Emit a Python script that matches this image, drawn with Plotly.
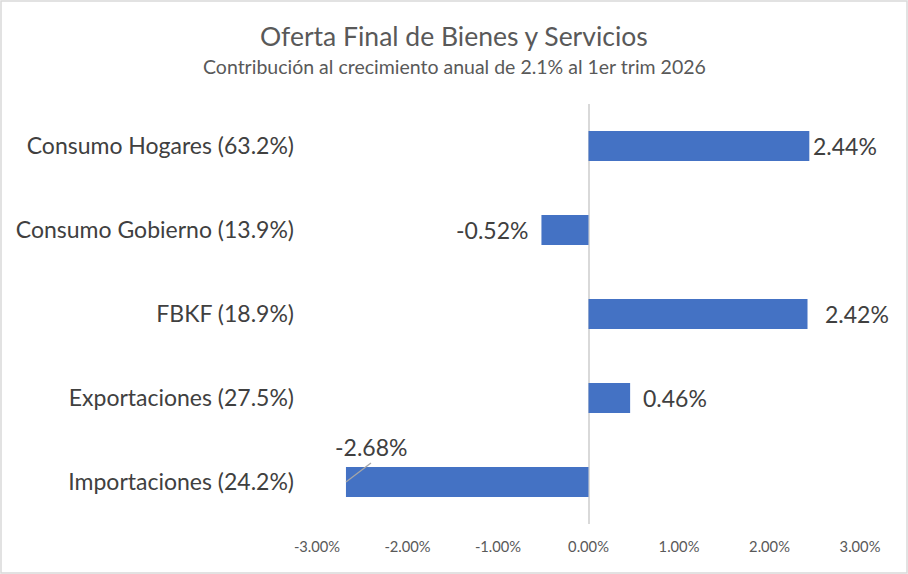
import plotly.graph_objects as go

categories = ["Consumo Hogares (63.2%)", "Consumo Gobierno (13.9%)", "FBKF (18.9%)",
              "Exportaciones (27.5%)", "Importaciones (24.2%)"]
values = [2.44, -0.52, 2.42, 0.46, -2.68]
labels = ["2.44%", "-0.52%", "2.42%", "0.46%", "-2.68%"]
tick_vals = [-3, -2, -1, 0, 1, 2, 3]
tick_text = ["-3.00%", "-2.00%", "-1.00%", "0.00%", "1.00%", "2.00%", "3.00%"]

W, H = 908, 574
L, R, T, B = 317, 48, 104, 50
pw, ph = W - L - R, H - T - B

def px(x):
    return (x - L) / pw

def py(y):
    return (H - B - y) / ph

FONT = "Lato"
order = categories[::-1]
fig = go.Figure(go.Bar(
    x=values, y=categories, orientation="h",
    marker=dict(color="#4472C4", line=dict(width=0)),
    width=0.357,
))

x_per_px = 6.0 / pw
y_per_px = len(categories) / ph

# label offsets (pixels)
shifts = [2, -11, 15, 11, None]
for v, lab, c, s in zip(values, labels, categories, shifts):
    if s is None:
        idx = order.index(c)
        fig.add_shape(type="line", xref="x", yref="y",
                      x0=v, y0=idx, x1=v + 25 * x_per_px, y1=idx + 19 * y_per_px,
                      line=dict(color="#A6A6A6", width=1.3))
        fig.add_annotation(x=v, y=c, text=lab, showarrow=False,
                           xanchor="center", yanchor="middle", xshift=25, yshift=35,
                           font=dict(family=FONT, size=23, color="#404040"))
    else:
        fig.add_annotation(x=v, y=c, text=lab, showarrow=False,
                           xanchor="left" if v >= 0 else "right",
                           xshift=s,
                           font=dict(family=FONT, size=23, color="#404040"))

fig.add_annotation(x=px(454), y=py(36), xref="paper", yref="paper", showarrow=False,
                   xanchor="center", yanchor="middle",
                   text="Oferta Final de Bienes y Servicios",
                   font=dict(family=FONT, size=26.5, color="#595959"))
fig.add_annotation(x=px(454), y=py(66), xref="paper", yref="paper", showarrow=False,
                   xanchor="center", yanchor="middle",
                   text="Contribución al crecimiento anual de 2.1% al 1er trim 2026",
                   font=dict(family=FONT, size=19.5, color="#595959"))

fig.add_shape(type="rect", xref="paper", yref="paper",
              x0=px(1), x1=px(W - 1), y0=py(1), y1=py(H - 1),
              line=dict(color="#D9D9D9", width=1.5), fillcolor="rgba(0,0,0,0)", layer="below")

fig.update_layout(
    width=W, height=H,
    margin=dict(l=L, r=R, t=T, b=B),
    paper_bgcolor="white", plot_bgcolor="white",
    showlegend=False,
    font=dict(family=FONT, color="#595959"),
    xaxis=dict(range=[-3, 3], tickvals=tick_vals, ticktext=tick_text, showgrid=False,
               zeroline=True, zerolinecolor="#D9D9D9", zerolinewidth=2,
               tickfont=dict(family=FONT, size=14.7, color="#595959"),
               ticklabelstandoff=12, showline=False, fixedrange=True),
    yaxis=dict(categoryorder="array", categoryarray=order, showgrid=False,
               range=[-0.5, len(categories) - 0.5],
               zeroline=False, showline=False,
               tickfont=dict(family=FONT, size=23, color="#404040"),
               ticklabelstandoff=22, fixedrange=True),
)

fig.write_html("out.html", config={"displayModeBar": False})
